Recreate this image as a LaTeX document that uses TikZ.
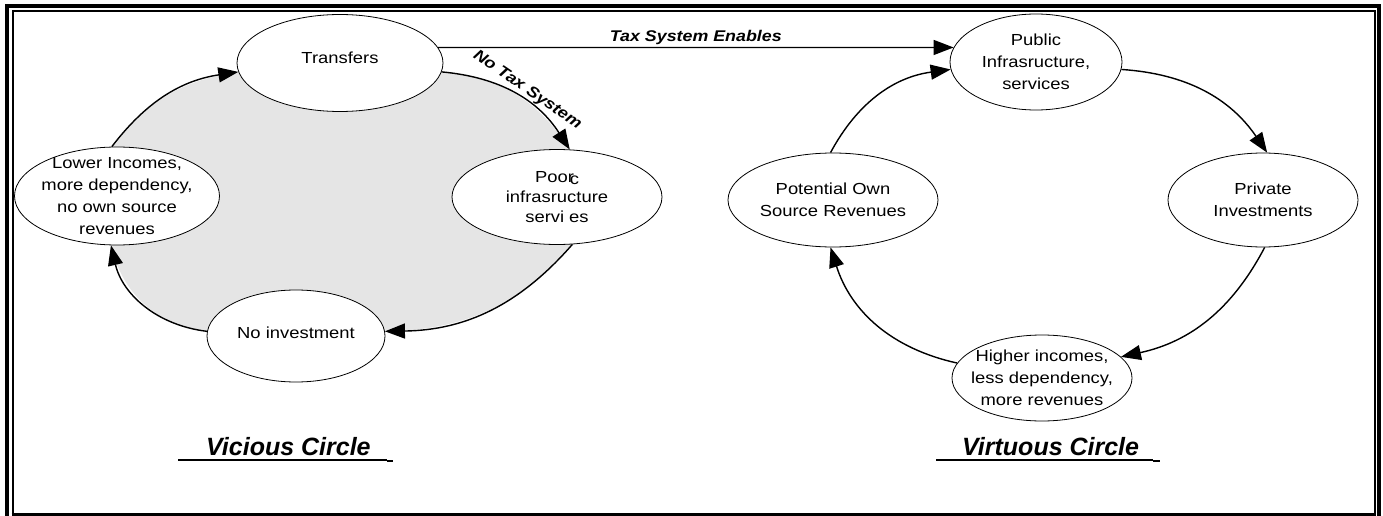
\documentclass[tikz,border=0pt]{standalone}
\usepackage{fontspec}
\setmainfont{Liberation Sans}
\newfontfamily\ellf[FakeStretch=1.15]{Liberation Sans}
\newfontfamily\labf[FakeStretch=1.15]{Liberation Sans}
\usetikzlibrary{shapes.geometric,arrows.meta,backgrounds}
\definecolor{bggray}{RGB}{229,229,229}
\begin{document}
\begin{tikzpicture}[x=1pt,y=-1pt,
  ell/.style={ellipse,draw,line width=0.8pt,fill=white,inner sep=0pt},
  txt/.style={align=center,inner sep=0pt,font=\ellf\fontsize{16}{22}\selectfont},
  arr/.style={line width=1.4pt,-{Triangle[length=20pt,width=15pt]}},
  lab/.style={font=\labf\bfseries\itshape\fontsize{15.5}{18}\selectfont,inner sep=2pt},
  ttl/.style={font=\bfseries\itshape\fontsize{25}{28}\selectfont,anchor=base west,inner sep=0pt}]
\useasboundingbox (0,0) rectangle (1383,516);
% frame
\draw[line width=4pt] (7,520) -- (7,6) -- (1379,6) -- (1379,520);
\draw[line width=2pt] (12.5,515) -- (12.5,11.5) -- (1374.5,11.5) -- (1374.5,515);
\draw[line width=3pt] (11.5,514.5) -- (1375.5,514.5);
% left circle
\node[ell,minimum width=206pt,minimum height=97pt,label={[txt,yshift=5pt]center:Transfers}] (tr) at (340,63) {};
\node[ell,minimum width=205pt,minimum height=98pt,label={[txt]center:Lower Incomes,\\more dependency,\\no own source\\revenues}] (li) at (117,196) {};
\node[ell,minimum width=210pt,minimum height=95pt,label={[txt,font=\ellf\fontsize{16}{20}\selectfont]center:Poo\rlap{r}\hspace{2pt}\raisebox{-2pt}{c}\\infrasructure\\servi\hspace{5pt}es}] (po) at (557,197) {};
\node[ell,minimum width=178pt,minimum height=92pt,label={[txt,yshift=3pt]center:No investment}] (ni) at (296,336) {};
% right circle
\node[ell,minimum width=172pt,minimum height=96pt,label={[txt]center:Public\\Infrasructure,\\services}] (pub) at (1036,62) {};
\node[ell,minimum width=190pt,minimum height=94pt,label={[txt]center:Private\\Investments}] (pr) at (1263,200) {};
\node[ell,minimum width=180pt,minimum height=86pt,label={[txt]center:Higher incomes,\\less dependency,\\more revenues}] (hi) at (1042,378) {};
\node[ell,minimum width=210pt,minimum height=94pt,label={[txt]center:Potential Own\\Source Revenues}] (pot) at (833,200) {};
% gray interior of vicious circle
\begin{scope}[on background layer]
\fill[bggray] (li.96) to[bend left=22] (tr.185) -- (tr.-5) to[bend left=26] (po.75)
  -- (po.-72) to[bend left=24] (ni.3) -- (ni.177) to[bend left=35] (li.-97) -- cycle;
\end{scope}
% connectors left
\draw[arr] (li.96) to[bend left=22] (tr.185);
\draw[arr] (tr.-5) to[bend left=26] node[lab,pos=0.55,sloped,above] {No Tax System} (po.75);
\draw[arr] (po.-72) to[bend left=24] (ni.3);
\draw[arr] (ni.177) to[bend left=35] (li.-97);
% tax system enables
\draw[arr] (tr.9) -- node[lab,pos=0.5,above] {Tax System Enables} (pub.170);
% connectors right
\draw[arr] (pot.93) to[bend left=27] (pub.185);
\draw[arr] (pub.-5) to[bend left=26] (pr.85);
\draw[arr] (pr.-88) to[bend left=25] (hi.15);
\draw[arr] (hi.170) to[bend left=30] (pot.-93);
% titles
\node[ttl] (vt) at (206,455) {Vicious Circle};
\draw[line width=1.5pt] (178,460) -- (387,460);
\draw[line width=2.5pt] (387,461) -- (393,461);
\node[ttl] (vr) at (962,455) {Virtuous Circle};
\draw[line width=1.5pt] (936,460) -- (1153,460);
\draw[line width=2.5pt] (1153,461) -- (1160,461);
\end{tikzpicture}
\end{document}
